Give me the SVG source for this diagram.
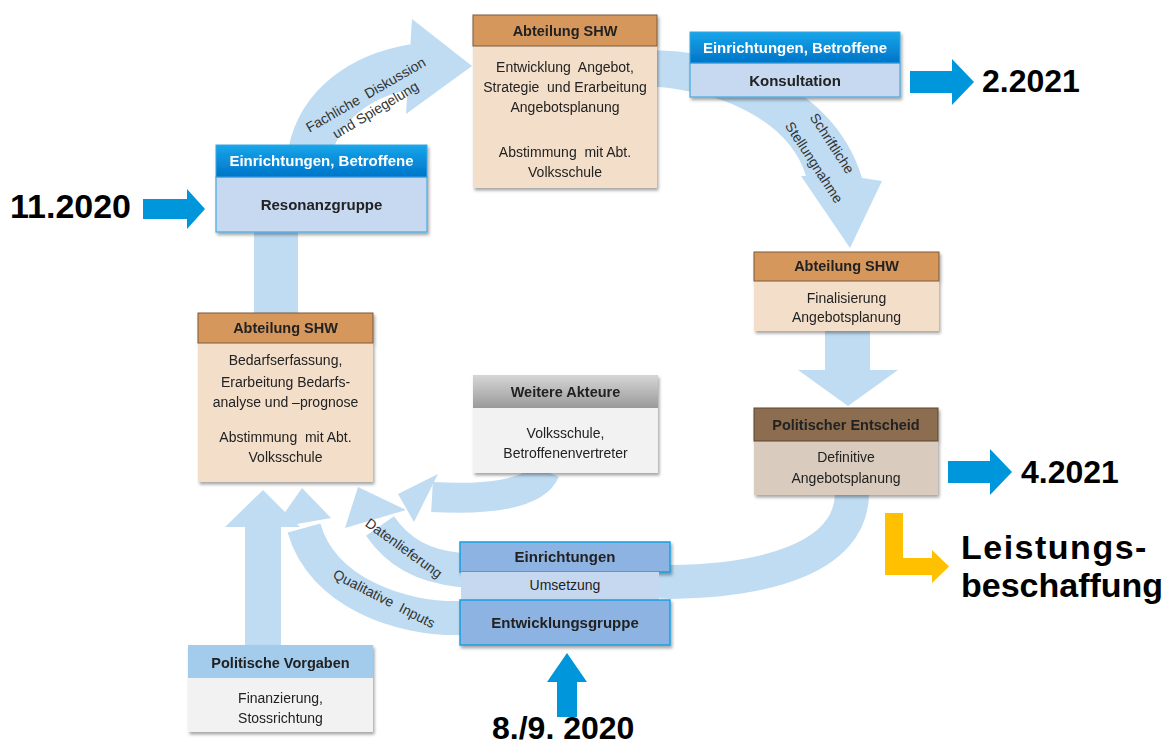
<svg xmlns="http://www.w3.org/2000/svg" width="1174" height="745" viewBox="0 0 1174 745">
<defs>
<linearGradient id="gBlue" x1="0" y1="0" x2="0" y2="1"><stop offset="0" stop-color="#17A6EA"/><stop offset="1" stop-color="#0074C8"/></linearGradient>
<linearGradient id="gGray" x1="0" y1="0" x2="0" y2="1"><stop offset="0" stop-color="#D6D6D6"/><stop offset="1" stop-color="#9A9A9A"/></linearGradient>
<filter id="sh" x="-10%" y="-10%" width="130%" height="140%"><feDropShadow dx="1.5" dy="2.5" stdDeviation="1.5" flood-color="#000" flood-opacity="0.35"/></filter>
</defs>
<style>
.band{fill:#BFDCF2}
.bs{fill:none;stroke:#BFDCF2}
.arr{fill:#0096DC}
text{font-family:"Liberation Sans",Arial,sans-serif;fill:#222;white-space:pre}
.h{font-weight:bold;font-size:14.5px;text-anchor:middle}
.hw{font-weight:bold;font-size:15px;text-anchor:middle;fill:#fff}
.b{font-size:14px;text-anchor:middle}
.lbl{font-size:14px;text-anchor:middle;fill:#333}
.big{font-weight:bold;font-size:33px;fill:#000}
.orange{fill:#D6975C;stroke:#7A5A3C;stroke-width:1}
.peach{fill:#F3DECA}
.bluehd{fill:url(#gBlue);stroke:#3BA6E0;stroke-width:1}
.lblue{fill:#C6D9F0;stroke:#45A8E2;stroke-width:1.2}
.mblue{fill:#8DB3E2;stroke:#1A9FE0;stroke-width:1.5}
.brown{fill:#8C6D4F;stroke:#5C4630;stroke-width:1}
.taupe{fill:#D9CBBD}
.grayhd{fill:url(#gGray)}
.lgray{fill:#F2F2F2}
.pblue{fill:#A3CBEC}
.box{filter:url(#sh)}
</style>
<rect width="1174" height="745" fill="#fff"/>

<g id="connectors">
  <!-- Abteilung left -> Resonanz (vertical) -->
  <rect class="band" x="254" y="230" width="44" height="86"/>
  <!-- Resonanz -> Abteilung top : Fachliche Diskussion -->
  <path class="bs" stroke-width="44" d="M310,152 C320,105 360,75 414,66"/>
  <polygon class="band" points="412,19 472,66 406,114"/>
  <!-- Abteilung top -> Konsultation -> Schriftliche Stellungnahme -> Abteilung right -->
  <path class="band" d="M640,50 C745,48 838,95 862,178 L882,181 L850,248 L801,176 L806,176 C790,122 722,88 640,86 Z"/>
  <!-- Abteilung right -> Politischer Entscheid -->
  <rect class="band" x="825" y="329" width="45" height="43"/>
  <polygon class="band" points="798,370 898,370 848,406"/>
  <!-- Politischer Entscheid -> Umsetzung -> Datenlieferung -->
  <path class="bs" stroke-width="34" d="M852,493 C852,560 760,581 670,582 L460,570 C422,566 398,552 380,526"/>
  <polygon class="band" points="345,528 358,487 406,510"/>
  <!-- Entwicklungsgruppe -> Qualitative Inputs -->
  <path class="bs" stroke-width="34" d="M462,618 C400,620 322,592 304,528"/>
  <polygon class="band" points="274,528 302,488 331,518"/>
  <!-- Politische Vorgaben -> Abteilung left -->
  <rect class="band" x="245" y="524" width="36" height="123"/>
  <polygon class="band" points="225,527 300,527 263,490"/>
  <!-- Weitere Akteure -> Abteilung left -->
  <path class="bs" stroke-width="30" d="M545,471 C535,495 485,500 432,497"/>
  <polygon class="band" points="438,474 398,494 414,522"/>

  <!-- date arrows -->
  <polygon class="arr" points="143,199 187,199 187,189 205,209 187,229 187,219 143,219"/>
  <polygon class="arr" points="910,71 952,71 952,59 974,82 952,105 952,93 910,93"/>
  <polygon class="arr" points="948,461 990,461 990,449 1012,472 990,495 990,483 948,483"/>
  <polygon class="arr" points="557,717 557,682 547,682 567,653 587,682 577,682 577,717"/>
  <polygon fill="#FFC000" points="885,513 903,513 903,558 932,558 932,550 949,566.5 932,583 932,575 885,575"/>
</g>

<g id="lbl-fachliche">
  <text class="lbl" transform="translate(368,99) rotate(-30)">Fachliche  Diskussion</text>
  <text class="lbl" transform="translate(378,114) rotate(-31)">und Spiegelung</text>
</g>
<g id="lbl-schriftlich">
  <text class="lbl" transform="translate(828,146) rotate(57)">Schriftliche</text>
  <text class="lbl" transform="translate(810,165) rotate(57)">Stellungnahme</text>
</g>
<g id="lbl-daten">
  <text class="lbl" transform="translate(401,552) rotate(36)">Datenlieferung</text>
</g>
<g id="lbl-qualitativ">
  <text class="lbl" transform="translate(382,603) rotate(27)">Qualitative  Inputs</text>
</g>

<g id="n-shw-top" class="box">
  <rect class="peach" x="473" y="46" width="184" height="142"/>
  <rect class="orange" x="473" y="15" width="184" height="31"/>
  <text class="h" x="565" y="36">Abteilung SHW</text>
  <text class="b" x="565" y="72">Entwicklung  Angebot,</text>
  <text class="b" x="565" y="92">Strategie  und Erarbeitung</text>
  <text class="b" x="565" y="112">Angebotsplanung</text>
  <text class="b" x="565" y="157">Abstimmung  mit Abt.</text>
  <text class="b" x="565" y="177">Volksschule</text>
</g>

<g id="n-konsultation" class="box">
  <rect class="lblue" x="690" y="63" width="210" height="34"/>
  <rect class="bluehd" x="690" y="32" width="210" height="31"/>
  <text class="hw" x="795" y="53">Einrichtungen, Betroffene</text>
  <text class="h" x="795" y="86" style="font-size:15px">Konsultation</text>
</g>

<g id="n-resonanz" class="box">
  <rect class="lblue" x="216" y="177" width="211" height="55"/>
  <rect class="bluehd" x="216" y="145" width="211" height="32"/>
  <text class="hw" x="321.5" y="166">Einrichtungen, Betroffene</text>
  <text class="h" x="321.5" y="210" style="font-size:15px">Resonanzgruppe</text>
</g>

<g id="n-shw-right" class="box">
  <rect class="peach" x="754" y="281" width="185" height="50"/>
  <rect class="orange" x="754" y="252" width="185" height="29"/>
  <text class="h" x="846.5" y="271">Abteilung SHW</text>
  <text class="b" x="846.5" y="303">Finalisierung</text>
  <text class="b" x="846.5" y="322">Angebotsplanung</text>
</g>

<g id="n-entscheid" class="box">
  <rect class="taupe" x="754" y="441" width="184" height="54"/>
  <rect class="brown" x="754" y="408" width="184" height="33"/>
  <text class="h" x="846" y="430">Politischer Entscheid</text>
  <text class="b" x="846" y="462">Definitive</text>
  <text class="b" x="846" y="483">Angebotsplanung</text>
</g>

<g id="n-shw-left" class="box">
  <rect class="peach" x="198" y="343" width="175" height="139"/>
  <rect class="orange" x="198" y="313" width="175" height="30"/>
  <text class="h" x="285.5" y="333">Abteilung SHW</text>
  <text class="b" x="285.5" y="365">Bedarfserfassung,</text>
  <text class="b" x="285.5" y="387">Erarbeitung Bedarfs-</text>
  <text class="b" x="285.5" y="407">analyse und –prognose</text>
  <text class="b" x="285.5" y="442">Abstimmung  mit Abt.</text>
  <text class="b" x="285.5" y="462">Volksschule</text>
</g>

<g id="n-weitere" class="box">
  <rect class="lgray" x="473" y="408" width="185" height="65"/>
  <rect class="grayhd" x="473" y="375" width="185" height="33"/>
  <text class="h" x="565.5" y="397">Weitere Akteure</text>
  <text class="b" x="565.5" y="438">Volksschule,</text>
  <text class="b" x="565.5" y="458">Betroffenenvertreter</text>
</g>

<g id="n-einrichtungen" class="box">
  <rect class="mblue" x="460" y="542" width="210" height="30"/>
  <text class="h" x="565" y="562" style="font-size:15px">Einrichtungen</text>
</g>
<g id="n-umsetzung">
  <rect fill="#C6D8F0" x="461" y="572" width="198" height="28"/>
  <text class="b" x="565" y="590">Umsetzung</text>
</g>
<g id="n-entwicklungsgruppe" class="box">
  <rect class="mblue" x="460" y="600" width="210" height="45"/>
  <text class="h" x="565" y="628" style="font-size:15px">Entwicklungsgruppe</text>
</g>

<g id="n-vorgaben" class="box">
  <rect class="lgray" x="188" y="678" width="185" height="54"/>
  <rect class="pblue" x="188" y="645" width="185" height="33"/>
  <text class="h" x="280.5" y="668">Politische Vorgaben</text>
  <text class="b" x="280.5" y="703">Finanzierung,</text>
  <text class="b" x="280.5" y="723">Stossrichtung</text>
</g>

<g id="dates">
  <text class="big" x="10" y="218" style="font-size:34px">11.2020</text>
  <text class="big" x="982" y="92" style="font-size:32px">2.2021</text>
  <text class="big" x="1021" y="483" style="font-size:32px">4.2021</text>
  <text class="big" x="492" y="739" style="font-size:32px">8./9. 2020</text>
  <text class="big" x="961" y="559" style="font-size:34px;letter-spacing:1.5px">Leistungs-</text>
  <text class="big" x="961" y="597" style="font-size:34px">beschaffung</text>
</g>
</svg>
